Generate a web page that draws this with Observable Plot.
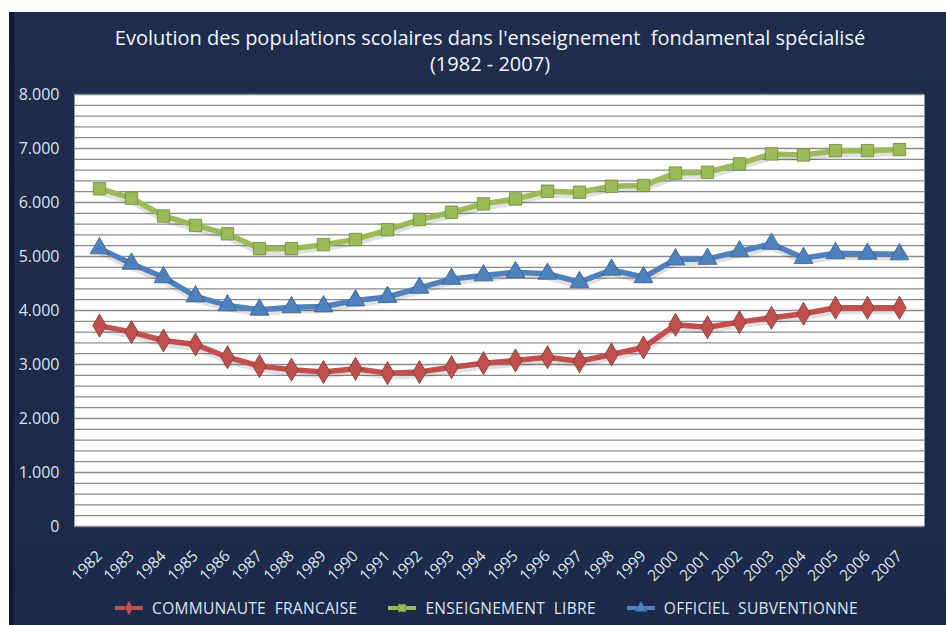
<!DOCTYPE html>
<html>
<head>
<meta charset="utf-8">
<script src="https://cdn.jsdelivr.net/npm/d3@7"></script>
<script src="https://cdn.jsdelivr.net/npm/@observablehq/plot@0.6"></script>
<style>
  html, body { margin: 0; padding: 0; background: #ffffff; }
  #panel {
    position: absolute; left: 9px; top: 12px; width: 932px; height: 613px;
    background: linear-gradient(#1e2c4d, #1b2a4a);
    border-left: 5px solid #0f1a33;
    font-family: "Open Sans", sans-serif;
  }
  #title {
    color: #f4f6fa; text-align: center; font-size: 20px; line-height: 26px;
    padding-top: 13px; padding-left: 20px; height: 52px; letter-spacing: 0px; font-weight: 500;
  }
  #chart { position: absolute; left: -5px; top: 65px; }
  #legend {
    position: absolute; top: 584px; left: 6px; width: 932px; height: 24px;
    display: flex; justify-content: center; align-items: center; gap: 30px;
    color: #dfe3ea; font-size: 15.5px; letter-spacing: 0.3px;
  }
  .item { display: flex; align-items: center; gap: 8px; }
</style>
</head>
<body>
<div id="panel">
  <div id="title">Evolution des populations scolaires dans l'enseignement&nbsp; fondamental spécialisé<br>(1982 - 2007)</div>
  <div id="chart"></div>
  <div id="legend"></div>
</div>
<script>
const years = ["1982","1983","1984","1985","1986","1987","1988","1989","1990","1991","1992","1993","1994","1995","1996","1997","1998","1999","2000","2001","2002","2003","2004","2005","2006","2007"];
const communaute = [3720,3600,3445,3370,3135,2970,2905,2860,2920,2840,2860,2950,3025,3075,3135,3060,3185,3315,3735,3690,3785,3865,3940,4050,4050,4050];
const libre = [6255,6080,5750,5575,5420,5145,5145,5220,5315,5495,5685,5820,5975,6065,6210,6190,6300,6315,6545,6560,6715,6900,6880,6960,6960,6980];
const officiel = [5150,4865,4615,4260,4095,4015,4060,4075,4185,4250,4420,4585,4650,4710,4680,4525,4755,4615,4945,4955,5095,5235,4970,5060,5050,5040];
const seriesNames = ["COMMUNAUTE  FRANCAISE", "ENSEIGNEMENT  LIBRE", "OFFICIEL  SUBVENTIONNE"];
const yTicks = [0,1000,2000,3000,4000,5000,6000,7000,8000];
const gridValues = d3.range(0, 8001, 200);

const colors = ["#c0504d", "#9bbb59", "#4f81bd"];
const strokes = ["#8c3330", "#6f8a3a", "#35609a"];
const symbols = ["diamond", "square", "triangle"];
const allSeries = [communaute, libre, officiel];

const data = [];
allSeries.forEach((vals, s) => vals.forEach((v, i) => data.push({year: years[i], value: v, series: seriesNames[s]})));

const fmt = d3.formatLocale({decimal: ",", thousands: ".", grouping: [3], currency: ["", "€"]}).format(",d");

const marks = [
  Plot.frame({fill: "white", stroke: "none"}),
  Plot.ruleY(gridValues, {stroke: "#8a8a8a", strokeWidth: 1.3}),
  Plot.axisY(yTicks, {tickSize: 0, tickPadding: 15, tickFormat: fmt, fontSize: 16, fill: "#dfe3ea", label: null}),
  Plot.axisX(years, {tickSize: 0, tickPadding: 27, tickRotate: -45, fontSize: 15.5, fill: "#dfe3ea", label: null})
];
seriesNames.forEach((name, s) => {
  const d = data.filter(r => r.series === name);
  marks.push(Plot.line(d, {x: "year", y: "value", stroke: "#000", strokeOpacity: 0.12, strokeWidth: 5, dy: 4}));
  marks.push(Plot.line(d, {x: "year", y: "value", stroke: colors[s], strokeWidth: 5.5}));
  marks.push(Plot.dot(d, {x: "year", y: "value", symbol: symbols[s], r: 7, fill: colors[s], stroke: strokes[s], strokeWidth: 0.8}));
});

const chart = Plot.plot({
  width: 937, height: 515,
  marginLeft: 65, marginRight: 22, marginTop: 17, marginBottom: 66,
  style: {background: "transparent", fontFamily: "Open Sans, sans-serif"},
  x: {type: "point", domain: years, padding: 0.5, axis: null},
  y: {domain: [0, 8000], axis: null},
  marks
});
document.getElementById("chart").appendChild(chart);

const legend = document.getElementById("legend");
seriesNames.forEach((name, s) => {
  const item = document.createElement("div");
  item.className = "item";
  const ns = "http://www.w3.org/2000/svg";
  const svg = document.createElementNS(ns, "svg");
  svg.setAttribute("width", 30); svg.setAttribute("height", 14);
  const line = document.createElementNS(ns, "line");
  line.setAttribute("x1", 1); line.setAttribute("x2", 29); line.setAttribute("y1", 7); line.setAttribute("y2", 7);
  line.setAttribute("stroke", colors[s]); line.setAttribute("stroke-width", 4);
  svg.appendChild(line);
  const p = document.createElementNS(ns, "path");
  p.setAttribute("d", d3.symbol(s === 0 ? d3.symbolDiamond : s === 1 ? d3.symbolSquare : d3.symbolTriangle, 55)());
  p.setAttribute("transform", "translate(15,7)");
  p.setAttribute("fill", colors[s]); p.setAttribute("stroke", strokes[s]); p.setAttribute("stroke-width", 0.8);
  svg.appendChild(p);
  item.appendChild(svg);
  const t = document.createElement("span");
  t.textContent = name.replace(/  /g, "\u00a0 ");
  item.appendChild(t);
  legend.appendChild(item);
});
</script>
</body>
</html>
